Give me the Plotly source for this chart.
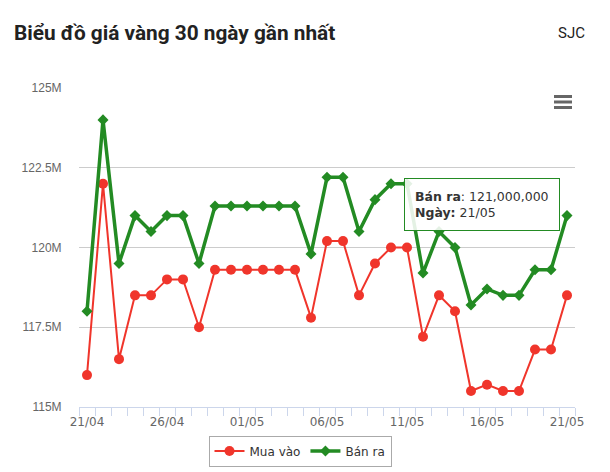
import plotly.graph_objects as go
import pandas as pd

dates = pd.date_range("2025-04-21", "2025-05-21", freq="D")
mua_vao = [116.0, 122.0, 116.5, 118.5, 118.5, 119.0, 119.0, 117.5, 119.3, 119.3,
           119.3, 119.3, 119.3, 119.3, 117.8, 120.2, 120.2, 118.5, 119.5, 120.0,
           120.0, 117.2, 118.5, 118.0, 115.5, 115.7, 115.5, 115.5, 116.8, 116.8, 118.5]
ban_ra = [118.0, 124.0, 119.5, 121.0, 120.5, 121.0, 121.0, 119.5, 121.3, 121.3,
          121.3, 121.3, 121.3, 121.3, 119.8, 122.2, 122.2, 120.5, 121.5, 122.0,
          122.0, 119.2, 120.5, 120.0, 118.2, 118.7, 118.5, 118.5, 119.3, 119.3, 121.0]
mua_vao = [round(v * 1e6) for v in mua_vao]
ban_ra = [round(v * 1e6) for v in ban_ra]
y_tickvals = [115e6, 117.5e6, 120e6, 122.5e6, 125e6]
y_ticktext = ["115M", "117.5M", "120M", "122.5M", "125M"]

RED = "#f0352b"
GREEN = "#238b23"

# page body has an 8px margin; work in screen pixels and convert
OFF = 8
W, H = 610 - OFF, 472 - OFF
SL, SR, ST, SB = 79, 575, 88, 407   # plot area in screen pixels
L, T = SL - OFF, ST - OFF
R = W - (SR - OFF)
B = H - (SB - OFF)
PW, PH = SR - SL, SB - ST


def px(x):
    return (x - SL) / PW


def py(y):
    return (SB - y) / PH


def cx(x):
    return (x - OFF) / W


def cy(y):
    return 1 - (y - OFF) / H


fig = go.Figure()
fig.add_trace(go.Scatter(
    x=dates, y=mua_vao, name="Mua vào", mode="lines+markers",
    line=dict(color=RED, width=2),
    marker=dict(symbol="circle", size=10, color=RED),
    hoverinfo="skip"))
fig.add_trace(go.Scatter(
    x=dates, y=ban_ra, name="Bán ra", mode="lines+markers",
    line=dict(color=GREEN, width=3.5),
    marker=dict(symbol="diamond", size=8.5, color=GREEN),
    hoverinfo="skip"))

day = 86400000
fig.update_xaxes(
    type="date",
    range=[dates[0] - pd.Timedelta(hours=12), dates[-1] + pd.Timedelta(hours=12)],
    tick0=dates[0], dtick=5 * day, tickformat="%d/%m",
    ticks="outside", ticklen=4, tickcolor="rgba(0,0,0,0)",
    showgrid=False, showline=True, linecolor="#ccd6eb", linewidth=1,
    tickfont=dict(family="DejaVu Sans", size=12, color="#666666"),
    minor=dict(tick0=dates[0] - pd.Timedelta(hours=12), dtick=day,
               ticks="outside", ticklen=8, tickcolor="#ccd6eb", showgrid=False),
    zeroline=False, fixedrange=True, automargin=False,
)
fig.update_yaxes(
    range=[115e6, 125e6], tickvals=y_tickvals, ticktext=y_ticktext,
    ticks="outside", ticklen=14, tickcolor="rgba(0,0,0,0)",
    showgrid=True, gridcolor="#cccccc", gridwidth=1,
    showline=False, zeroline=False, automargin=False,
    tickfont=dict(family="Liberation Sans", size=12, color="#666666"),
)

tip = (f"<b>Bán ra</b>: {ban_ra[-1]:,}<br>"
       f"<b>Ngày:</b> {dates[-1].strftime('%d/%m')}")

fig.update_layout(
    width=W, height=H,
    margin=dict(l=L, r=R, t=T, b=B, autoexpand=False),
    paper_bgcolor="white", plot_bgcolor="white",
    title=dict(text="<b>Biểu đồ giá vàng 30 ngày gần nhất</b>",
               x=cx(14), xanchor="left", xref="container",
               y=cy(33), yanchor="middle", yref="container",
               font=dict(family="Roboto", size=20.8, color="#222222")),
    showlegend=True,
    legend=dict(orientation="h", x=cx(300), xanchor="center", xref="container",
                y=cy(451), yanchor="middle", yref="container",
                bordercolor="#aaaaaa", borderwidth=1,
                font=dict(family="DejaVu Sans", size=12, color="#333333"),
                itemwidth=30),
    annotations=[
        dict(text="SJC", x=px(571), y=py(33), xref="paper", yref="paper",
             showarrow=False, xanchor="center", yanchor="middle",
             font=dict(family="Roboto", size=15, color="#222222")),
        dict(text=tip, x=px(404), y=py(178), xref="paper", yref="paper",
             showarrow=False, xanchor="left", yanchor="top", align="left",
             bgcolor="rgba(255,255,255,0.88)", bordercolor=GREEN,
             borderwidth=1, borderpad=10,
             font=dict(family="DejaVu Sans", size=12.5, color="#333333")),
    ],
    shapes=[
        dict(type="line", xref="paper", yref="paper", x0=px(554), x1=px(572),
             y0=py(yy), y1=py(yy), line=dict(color="#666666", width=3))
        for yy in (96.5, 102, 107.5)
    ],
)

fig.write_html("out.html")
